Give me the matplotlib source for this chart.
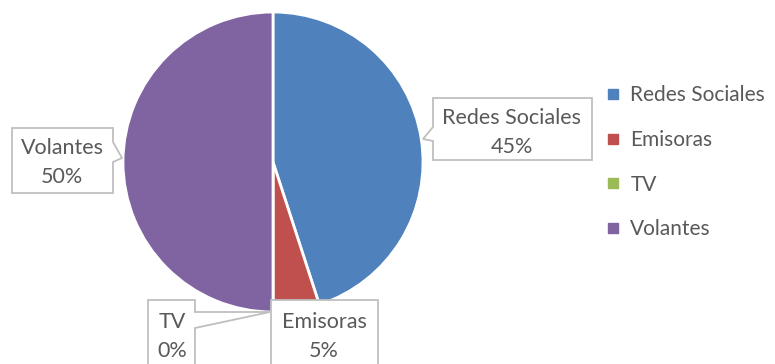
import numpy as np
import matplotlib
matplotlib.use("Agg")
import matplotlib.pyplot as plt
from matplotlib.patches import Polygon
from matplotlib.lines import Line2D

categories = ["Redes Sociales", "Emisoras", "TV", "Volantes"]
values = [45, 5, 0, 50]
colors = ["#4F81BD", "#C0504D", "#9BBB59", "#8064A2"]

plt.rcParams["font.family"] = ["Lato", "DejaVu Sans"]
TEXT = "#595959"
EDGE = "#BFBFBF"
FS = 15.5

W, H = 775, 364
fig = plt.figure(figsize=(W / 100, H / 100), dpi=100)
ax = fig.add_axes([0, 0, 1, 1])

cx, cy, r = 273, 162, 150
# y axis is inverted, so counterclock=True runs clockwise on screen
wedges, _ = ax.pie(values, colors=colors, startangle=-90, counterclock=True,
                   center=(cx, cy), radius=r, frame=True,
                   wedgeprops=dict(edgecolor="white", linewidth=2))
ax.set_xlim(0, W)
ax.set_ylim(H, 0)
ax.set_aspect("equal")
ax.axis("off")

total = sum(values)


def callout(box, notch=None, tip=None):
    x0, y0, x1, y1 = box
    if notch is None:
        pts = [(x0, y0), (x1, y0), (x1, y1), (x0, y1)]
    else:
        side, a, b = notch
        if side == "left":
            pts = [(x0, y0), (x1, y0), (x1, y1), (x0, y1), (x0, b), tip, (x0, a)]
        else:
            pts = [(x0, y0), (x1, y0), (x1, a), tip, (x1, b), (x1, y1), (x0, y1)]
    ax.add_patch(Polygon(pts, closed=True, facecolor="white", edgecolor=EDGE,
                         linewidth=1.3, zorder=5))


def label(i, xc, ytop):
    ax.text(xc, ytop, categories[i], ha="center", va="center", fontsize=FS,
            color=TEXT, zorder=6)
    ax.text(xc, ytop + 29, f"{values[i] / total * 100:.0f}%", ha="center",
            va="center", fontsize=FS, color=TEXT, zorder=6)


# Redes Sociales
callout((433, 98, 592, 160), ("left", 127, 141), (423, 139))
label(0, 512, 118)
# Volantes
callout((12, 128, 113, 193), ("right", 142, 162), (122, 158))
label(3, 62, 148)
# TV
callout((148, 300, 195, 380), ("right", 312, 328), (270, 312))
label(2, 172, 322)
# Emisoras
callout((271, 300, 378, 380))
label(1, 324, 322)

handles = [Line2D([], [], marker="s", linestyle="none", markersize=7,
                  markerfacecolor=c, markeredgecolor=c) for c in colors]
leg = ax.legend(handles, categories, loc="upper left",
                bbox_to_anchor=(597 / W, 1 - 77 / H), frameon=False,
                fontsize=15, labelcolor=TEXT, handlelength=0.7,
                handletextpad=0.5, labelspacing=1.18, borderaxespad=0)

fig.savefig("out.png", dpi=100)
